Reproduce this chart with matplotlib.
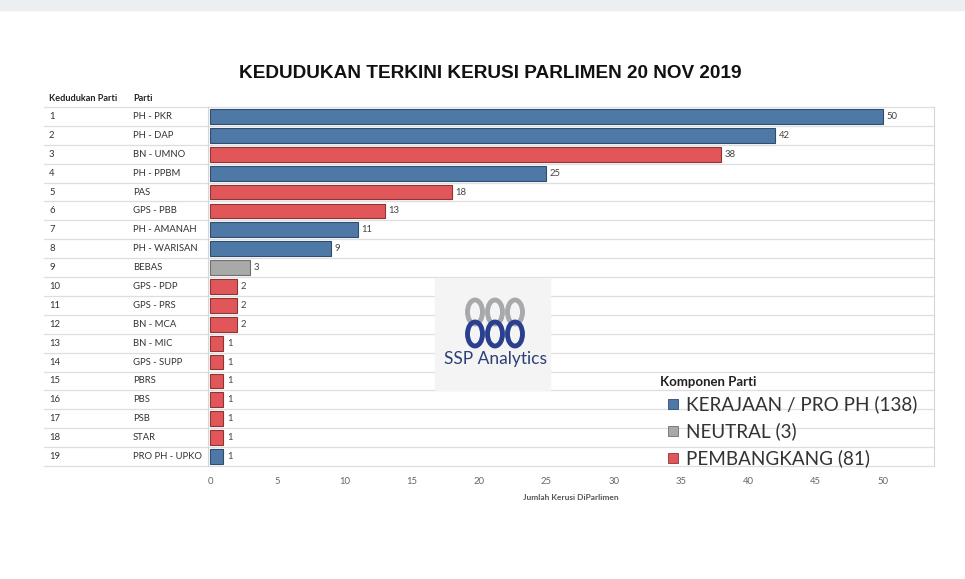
import matplotlib
matplotlib.use("Agg")
import matplotlib.pyplot as plt
from matplotlib.patches import Rectangle, Ellipse

# data
ranks = list(range(1, 20))
parties = ["PH - PKR", "PH - DAP", "BN - UMNO", "PH - PPBM", "PAS", "GPS - PBB",
           "PH - AMANAH", "PH - WARISAN", "BEBAS", "GPS - PDP", "GPS - PRS",
           "BN - MCA", "BN - MIC", "GPS - SUPP", "PBRS", "PBS", "PSB", "STAR",
           "PRO PH - UPKO"]
seats = [50, 42, 38, 25, 18, 13, 11, 9, 3, 2, 2, 2, 1, 1, 1, 1, 1, 1, 1]
group = ["K", "K", "P", "K", "P", "P", "K", "K", "N", "P", "P", "P", "P", "P",
         "P", "P", "P", "P", "K"]
legend_labels = ["KERAJAAN / PRO PH (138)", "NEUTRAL (3)", "PEMBANGKANG (81)"]
xticks = [0, 5, 10, 15, 20, 25, 30, 35, 40, 45, 50]

colors = {"K": "#4e79a7", "N": "#a9a9a9", "P": "#e15759"}
edges = {"K": "#2f4d6e", "N": "#6f6f6f", "P": "#8f3335"}

W, H = 965, 579
fig = plt.figure(figsize=(W / 100, H / 100), dpi=100)
fig.patch.set_facecolor("white")

def fx(px):
    return px / W

def fy(py):
    return 1 - py / H

# grey band at top
fig.patches.append(Rectangle((0, fy(10)), 1, 10 / H, transform=fig.transFigure,
                             color="#eceff1", zorder=0))

ax = fig.add_axes([fx(208), fy(466), fx(934) - fx(208), fy(107) - fy(466)])
ypos = list(range(len(parties)))
ax.barh(ypos, seats, height=0.78, color=[colors[g] for g in group],
        edgecolor=[edges[g] for g in group], linewidth=0.8, zorder=3)
for y, v in zip(ypos, seats):
    ax.text(v + 0.25, y, str(v), va="center", ha="left", fontsize=6.8,
            color="#444444", family="Lato", zorder=4)

ax.set_xlim(-0.15, 53.8)
ax.set_ylim(18.5, -0.5)
ax.set_xticks(xticks)
ax.set_xticklabels([str(t) for t in xticks], fontsize=6.8, color="#666666", family="Lato")
ax.set_yticks([])
ax.tick_params(axis="x", length=0, pad=8)
for s in ["top", "bottom"]:
    ax.spines[s].set_visible(False)
ax.spines["left"].set_color("#d6d6d6")
ax.spines["right"].set_color("#d6d6d6")
ax.spines["left"].set_linewidth(0.8)
ax.spines["right"].set_linewidth(0.8)

left_frac = (44 - 208) / 726
for b in range(len(parties) + 1):
    ax.axhline(b - 0.5, xmin=left_frac, xmax=1, color="#dedede", lw=0.9,
               clip_on=False, zorder=1)

rank_x = (49 - 208) / 726
party_x = (133 - 208) / 726
for y, r, p in zip(ypos, ranks, parties):
    ax.text(rank_x, y, str(r), transform=ax.get_yaxis_transform(), va="center",
            ha="left", fontsize=6.8, color="#333333", family="Lato")
    ax.text(party_x, y, p, transform=ax.get_yaxis_transform(), va="center",
            ha="left", fontsize=6.8, color="#333333", family="Lato")

fig.text(fx(49), fy(99), "Kedudukan Parti", fontsize=6.6, fontweight="bold",
         family="Lato", va="center", ha="left", color="#222222")
fig.text(fx(133), fy(99), "Parti", fontsize=6.6, fontweight="bold",
         family="Lato", va="center", ha="left", color="#222222")

fig.text(fx(490), fy(73), "KEDUDUKAN TERKINI KERUSI PARLIMEN 20 NOV 2019",
         fontsize=13.7, fontweight="bold", family="Liberation Sans",
         ha="center", va="center", color="#111111")

fig.text(fx(571), fy(498), "Jumlah Kerusi DiParlimen", fontsize=6,
         fontweight="bold", family="Lato", ha="center", va="center", color="#555555")

# logo block
fig.patches.append(Rectangle((fx(435), fy(390)), fx(550) - fx(435), fy(278) - fy(390),
                             transform=fig.transFigure, color="#f4f4f4", zorder=2))
for i, cx in enumerate([475, 495, 515]):
    fig.patches.append(Ellipse((fx(cx), fy(312)), 15 / W, 24 / H, transform=fig.transFigure,
                               fill=False, ec="#a7a9ac", lw=3.5, zorder=3))
    fig.patches.append(Ellipse((fx(cx), fy(334)), 15 / W, 24 / H, transform=fig.transFigure,
                               fill=False, ec="#2a3f8f", lw=3.5, zorder=3))
fig.text(fx(495), fy(359), "SSP Analytics", fontsize=12.5, family="Lato",
         ha="center", va="center", color="#2d3e7a", zorder=4)

# legend
fig.text(fx(660), fy(382), "Komponen Parti", fontsize=9.5, fontweight="bold",
         family="Lato", ha="left", va="center", color="#222222")
for lab, g, py in zip(legend_labels, ["K", "N", "P"], [404, 431, 458]):
    fig.patches.append(Rectangle((fx(668), fy(py + 5)), 10 / W, 10 / H,
                                 transform=fig.transFigure, fc=colors[g],
                                 ec=edges[g], lw=0.6, zorder=5))
    fig.text(fx(686), fy(py), lab, fontsize=13.6, family="Lato", ha="left",
             va="center", color="#333333", zorder=5)

fig.savefig("out.png", dpi=100)
